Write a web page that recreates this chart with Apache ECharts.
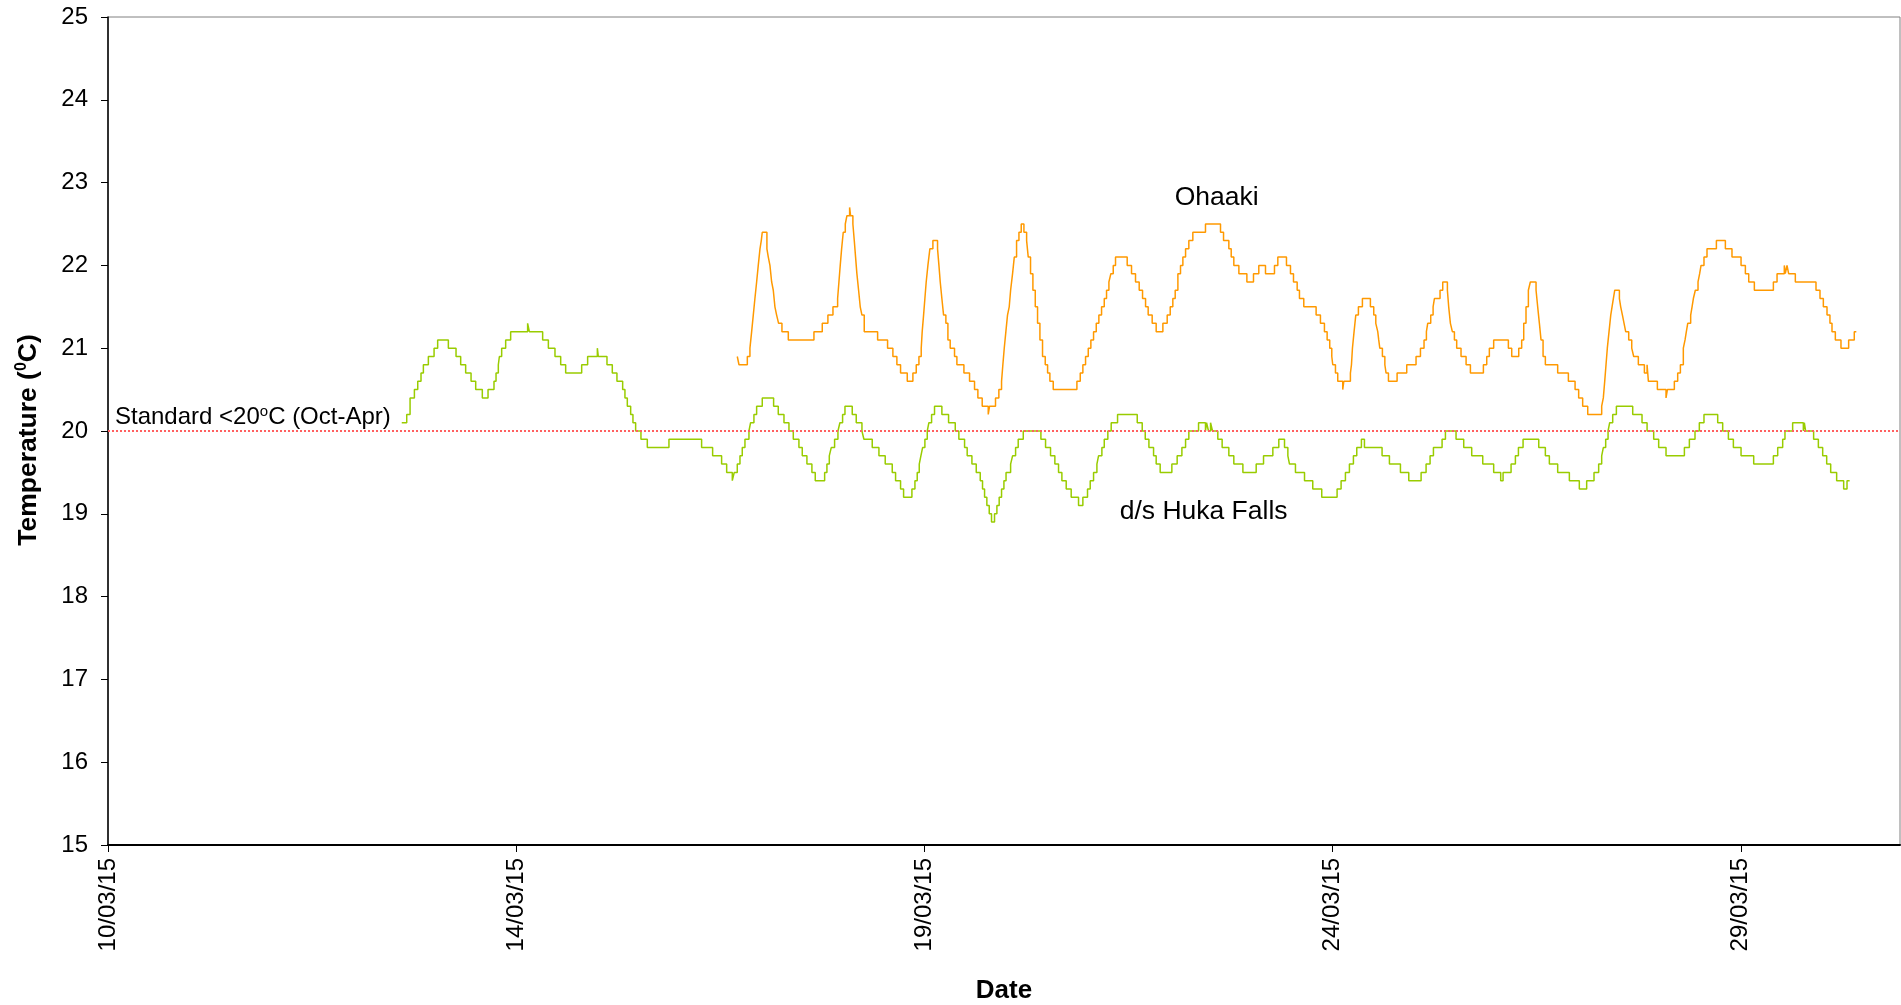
<!DOCTYPE html>
<html>
<head>
<meta charset="utf-8">
<title>Temperature</title>
<script src="https://cdn.jsdelivr.net/npm/echarts@6/dist/echarts.min.js"></script>
<style>
html, body { margin: 0; padding: 0; background: #fff; }
#chart { width: 1901px; height: 1005px; }
</style>
</head>
<body>
<div id="chart"></div>
<script>
// x = days from the first axis tick, y = temperature in degC
var xTickLabels = ['10/03/15', '14/03/15', '19/03/15', '24/03/15', '29/03/15'];
var standardValue = 20;

var hukaFalls = [
	[3.598,20.1],[3.659,20.2],[3.700,20.4],[3.753,20.5],[3.794,20.6],[3.834,20.7],[3.863,20.8],[3.924,20.9],[3.994,21.0],[4.038,21.1],
	[4.169,21.0],[4.263,20.9],[4.320,20.8],[4.381,20.7],[4.447,20.6],[4.504,20.5],[4.585,20.4],[4.655,20.5],[4.728,20.6],[4.753,20.7],
	[4.781,20.8],[4.794,20.9],[4.822,21.0],[4.871,21.1],[4.932,21.2],[5.140,21.3],[5.161,21.2],[5.324,21.1],[5.394,21.0],[5.475,20.9],
	[5.545,20.8],[5.606,20.7],[5.802,20.8],[5.875,20.9],[5.994,21.0],[6.006,20.9],[6.112,20.8],[6.177,20.7],[6.234,20.6],[6.304,20.5],
	[6.332,20.4],[6.361,20.3],[6.402,20.2],[6.430,20.1],[6.463,20.0],[6.528,19.9],[6.606,19.8],[6.871,19.9],[7.271,19.8],
	[7.406,19.7],[7.516,19.6],[7.578,19.5],[7.647,19.4],[7.671,19.5],[7.708,19.6],[7.741,19.7],[7.769,19.8],[7.802,19.9],[7.851,20.0],
	[7.871,20.1],[7.912,20.2],[7.945,20.3],[8.014,20.4],[8.153,20.3],[8.210,20.2],[8.280,20.1],[8.341,20.0],[8.394,19.9],[8.463,19.8],
	[8.504,19.7],[8.561,19.6],[8.622,19.5],[8.663,19.4],[8.778,19.5],[8.806,19.6],[8.835,19.7],[8.859,19.8],[8.900,19.9],[8.941,20.0],
	[8.965,20.1],[8.998,20.2],[9.027,20.3],[9.116,20.2],[9.165,20.1],[9.235,20.0],[9.259,19.9],[9.361,19.8],[9.443,19.7],[9.520,19.6],
	[9.606,19.5],[9.647,19.4],[9.708,19.3],[9.745,19.2],[9.847,19.3],[9.884,19.4],[9.912,19.5],[9.937,19.6],[9.957,19.7],[9.978,19.8],
	[10.006,19.9],[10.035,20.0],[10.055,20.1],[10.088,20.2],[10.124,20.3],[10.214,20.2],[10.296,20.1],[10.378,20.0],[10.422,19.9],
	[10.492,19.8],[10.524,19.7],[10.582,19.6],[10.635,19.5],[10.684,19.4],[10.712,19.3],[10.737,19.2],[10.765,19.1],[10.794,19.0],
	[10.822,18.9],[10.859,19.0],[10.888,19.1],[10.916,19.2],[10.945,19.3],[10.974,19.4],[11.000,19.5],[11.056,19.6],[11.080,19.7],
	[11.117,19.8],[11.149,19.9],[11.211,20.0],[11.427,19.9],[11.484,19.8],[11.545,19.7],[11.598,19.6],[11.643,19.5],[11.684,19.4],
	[11.737,19.3],[11.798,19.2],[11.888,19.1],[11.941,19.2],[11.998,19.3],[12.031,19.4],[12.072,19.5],[12.113,19.6],[12.133,19.7],
	[12.174,19.8],[12.203,19.9],[12.247,20.0],[12.288,20.1],[12.366,20.2],[12.607,20.1],[12.668,20.0],[12.705,19.9],[12.750,19.8],
	[12.807,19.7],[12.839,19.6],[12.888,19.5],[13.031,19.6],[13.096,19.7],[13.154,19.8],[13.199,19.9],[13.239,20.0],[13.358,20.1],
	[13.443,20.0],[13.456,20.1],[13.480,20.0],[13.505,20.1],[13.529,20.0],[13.594,19.9],[13.647,19.8],[13.729,19.7],[13.790,19.6],
	[13.901,19.5],[14.064,19.6],[14.154,19.7],[14.268,19.8],[14.341,19.9],[14.411,19.8],[14.452,19.7],[14.472,19.6],[14.545,19.5],
	[14.656,19.4],[14.757,19.3],[14.867,19.2],[15.055,19.3],[15.104,19.4],[15.157,19.5],[15.206,19.6],[15.255,19.7],[15.296,19.8],
	[15.353,19.9],[15.390,19.8],[15.606,19.7],[15.696,19.6],[15.831,19.5],[15.933,19.4],[16.084,19.5],[16.145,19.6],[16.194,19.7],
	[16.235,19.8],[16.341,19.9],[16.382,20.0],[16.512,19.9],[16.606,19.8],[16.704,19.7],[16.839,19.6],[16.973,19.5],[17.059,19.4],
	[17.088,19.5],[17.186,19.6],[17.239,19.7],[17.276,19.8],[17.333,19.9],[17.525,19.8],[17.606,19.7],[17.655,19.6],[17.757,19.5],
	[17.900,19.4],[18.022,19.3],[18.112,19.4],[18.202,19.5],[18.259,19.6],[18.296,19.7],[18.316,19.8],[18.345,19.9],[18.374,20.0],
	[18.394,20.1],[18.431,20.2],[18.476,20.3],[18.676,20.2],[18.790,20.1],[18.852,20.0],[18.933,19.9],[18.994,19.8],[19.084,19.7],
	[19.309,19.8],[19.370,19.9],[19.439,20.0],[19.492,20.1],[19.549,20.2],[19.717,20.1],[19.778,20.0],[19.848,19.9],[19.909,19.8],
	[20.003,19.7],[20.158,19.6],[20.399,19.7],[20.452,19.8],[20.513,19.9],[20.541,20.0],[20.635,20.1],[20.766,20.0],[20.778,20.1],
	[20.794,20.0],[20.892,19.9],[20.950,19.8],[21.003,19.7],[21.052,19.6],[21.101,19.5],[21.174,19.4],[21.260,19.3],[21.301,19.4],
	[21.333,19.4]
];

var ohaaki = [
	[7.708,20.9],[7.729,20.8],[7.831,20.9],[7.863,21.0],[7.884,21.2],[7.904,21.4],[7.924,21.6],[7.945,21.8],[7.965,22.0],[7.986,22.2],
	[8.002,22.3],[8.014,22.4],[8.071,22.2],[8.088,22.1],[8.108,22.0],[8.129,21.8],[8.149,21.7],[8.169,21.5],[8.190,21.4],[8.214,21.3],
	[8.255,21.2],[8.333,21.1],[8.647,21.2],[8.749,21.3],[8.818,21.4],[8.880,21.5],[8.937,21.6],[8.953,21.8],[8.969,22.0],[8.986,22.2],
	[9.006,22.4],[9.031,22.5],[9.051,22.6],[9.084,22.7],[9.096,22.6],[9.124,22.5],[9.141,22.3],[9.157,22.1],[9.173,21.9],[9.194,21.7],
	[9.214,21.5],[9.235,21.4],[9.263,21.2],[9.427,21.1],[9.549,21.0],[9.614,20.9],[9.663,20.8],[9.708,20.7],[9.790,20.6],[9.859,20.7],
	[9.900,20.8],[9.933,20.9],[9.961,21.0],[9.973,21.2],[9.990,21.4],[10.006,21.6],[10.022,21.8],[10.043,22.0],[10.067,22.2],
	[10.104,22.3],[10.161,22.2],[10.178,22.0],[10.194,21.8],[10.214,21.6],[10.235,21.4],[10.263,21.3],[10.288,21.1],[10.316,21.0],
	[10.369,20.9],[10.398,20.8],[10.484,20.7],[10.553,20.6],[10.614,20.5],[10.655,20.4],[10.708,20.3],[10.782,20.2],[10.798,20.3],
	[10.871,20.4],[10.912,20.5],[10.945,20.6],[10.961,20.8],[10.978,21.0],[10.998,21.2],[11.018,21.4],[11.039,21.5],[11.056,21.7],
	[11.080,21.9],[11.101,22.1],[11.129,22.3],[11.158,22.4],[11.186,22.5],[11.219,22.4],[11.252,22.3],[11.272,22.1],[11.300,21.9],
	[11.329,21.7],[11.358,21.5],[11.386,21.3],[11.415,21.1],[11.447,20.9],[11.480,20.8],[11.509,20.7],[11.537,20.6],[11.578,20.5],
	[11.868,20.6],[11.909,20.7],[11.941,20.8],[11.974,20.9],[12.007,21.0],[12.039,21.1],[12.072,21.2],[12.105,21.3],[12.137,21.4],
	[12.170,21.5],[12.203,21.6],[12.231,21.7],[12.260,21.8],[12.284,21.9],[12.313,22.0],[12.341,22.1],[12.484,22.0],[12.537,21.9],
	[12.586,21.8],[12.631,21.7],[12.672,21.6],[12.709,21.5],[12.741,21.4],[12.790,21.3],[12.839,21.2],[12.921,21.3],[12.974,21.4],
	[13.011,21.5],[13.043,21.6],[13.072,21.7],[13.105,21.9],[13.137,22.0],[13.166,22.1],[13.199,22.2],[13.239,22.3],[13.288,22.4],
	[13.443,22.5],[13.627,22.4],[13.664,22.3],[13.729,22.2],[13.758,22.1],[13.790,22.0],[13.852,21.9],[13.950,21.8],[14.031,21.9],
	[14.096,22.0],[14.178,21.9],[14.288,22.0],[14.329,22.1],[14.435,22.0],[14.484,21.9],[14.521,21.8],[14.566,21.7],[14.594,21.6],
	[14.647,21.5],[14.798,21.4],[14.851,21.3],[14.900,21.2],[14.933,21.1],[14.965,21.0],[14.990,20.9],[15.002,20.8],[15.035,20.7],
	[15.063,20.6],[15.124,20.5],[15.137,20.6],[15.218,20.7],[15.231,20.8],[15.243,21.0],[15.263,21.2],[15.284,21.4],[15.316,21.5],
	[15.365,21.6],[15.463,21.5],[15.504,21.4],[15.529,21.3],[15.553,21.2],[15.565,21.1],[15.578,21.0],[15.610,20.9],[15.640,20.8],
	[15.655,20.7],[15.684,20.6],[15.790,20.7],[15.908,20.8],[16.022,20.9],[16.076,21.0],[16.120,21.1],[16.149,21.2],[16.165,21.3],
	[16.202,21.4],[16.231,21.5],[16.247,21.6],[16.316,21.7],[16.349,21.8],[16.406,21.7],[16.422,21.5],[16.443,21.3],[16.467,21.2],
	[16.492,21.1],[16.520,21.0],[16.573,20.9],[16.635,20.8],[16.688,20.7],[16.847,20.8],[16.888,20.9],[16.920,21.0],[16.973,21.1],
	[17.153,21.0],[17.194,20.9],[17.280,21.0],[17.316,21.1],[17.341,21.3],[17.369,21.5],[17.398,21.7],[17.422,21.8],[17.492,21.7],
	[17.512,21.5],[17.533,21.3],[17.553,21.1],[17.578,20.9],[17.606,20.8],[17.757,20.7],[17.888,20.6],[17.970,20.5],[18.014,20.4],
	[18.063,20.3],[18.125,20.2],[18.296,20.3],[18.316,20.4],[18.333,20.6],[18.349,20.8],[18.365,21.0],[18.386,21.2],[18.407,21.4],
	[18.423,21.5],[18.439,21.6],[18.456,21.7],[18.513,21.6],[18.529,21.5],[18.550,21.4],[18.570,21.3],[18.590,21.2],[18.627,21.1],
	[18.664,21.0],[18.688,20.9],[18.745,20.8],[18.819,20.7],[18.852,20.8],[18.860,20.7],[18.868,20.6],[18.978,20.5],[19.084,20.4],
	[19.101,20.5],[19.186,20.6],[19.227,20.7],[19.260,20.8],[19.296,21.0],[19.317,21.1],[19.333,21.2],[19.350,21.3],[19.386,21.4],
	[19.403,21.5],[19.419,21.6],[19.443,21.7],[19.476,21.8],[19.496,21.9],[19.513,22.0],[19.549,22.1],[19.586,22.2],[19.701,22.3],
	[19.811,22.2],[19.892,22.1],[20.003,22.0],[20.056,21.9],[20.097,21.8],[20.166,21.7],[20.399,21.8],[20.444,21.9],[20.533,22.0],
	[20.545,21.9],[20.566,22.0],[20.586,21.9],[20.668,21.8],[20.921,21.7],[20.970,21.6],[21.011,21.5],[21.056,21.4],[21.092,21.3],
	[21.117,21.2],[21.158,21.1],[21.227,21.0],[21.321,21.1],[21.390,21.2],[21.415,21.2]
];

// where the series names sit on the plot (data coords)
var ohaakiLabelAt = [13.58, 22.82];
var hukaLabelAt = [13.42, 19.02];

var font = '"Liberation Sans", Arial, sans-serif';
var chart = echarts.init(document.getElementById('chart'));

chart.setOption({
	animation: false,
	backgroundColor: '#ffffff',
	textStyle: { fontFamily: font },
	grid: {
		left: 108,
		right: 1,
		top: 17,
		bottom: 160,
		outerBoundsMode: 'none',
		containLabel: false,
		show: true,
		borderColor: '#808080',
		borderWidth: 1
	},
	xAxis: {
		type: 'value',
		min: 0,
		max: 21.95,
		interval: 5,
		name: 'Date',
		nameLocation: 'middle',
		nameGap: 133,
		nameTextStyle: { fontSize: 26, fontWeight: 'bold', color: '#000', fontFamily: font },
		axisLine: { show: true, onZero: false, lineStyle: { color: '#000', width: 2 } },
		axisTick: { show: true, length: 7, lineStyle: { color: '#000', width: 1 } },
		splitLine: { show: false },
		axisLabel: {
			rotate: 90,
			margin: 13,
			fontSize: 24,
			color: '#000',
			fontFamily: font,
			showMaxLabel: false,
			formatter: function (v) {
				var i = Math.round(v / 5);
				return Math.abs(v - i * 5) < 1e-6 && xTickLabels[i] ? xTickLabels[i] : '';
			}
		}
	},
	yAxis: {
		type: 'value',
		min: 15,
		max: 25,
		interval: 1,
		name: 'Temperature ({s|0}C)',
		nameLocation: 'middle',
		nameGap: 64,
		nameTextStyle: {
			fontSize: 26.5,
			fontWeight: 'bold',
			color: '#000',
			fontFamily: font,
			padding: [0, 18, 0, 0],
			rich: {
				s: { fontSize: 16, fontWeight: 'bold', color: '#000', fontFamily: font, verticalAlign: 'top', lineHeight: 30 }
			}
		},
		axisLine: { show: true, lineStyle: { color: '#000', width: 1.5 } },
		axisTick: { show: true, length: 7, lineStyle: { color: '#000', width: 1 } },
		splitLine: { show: false },
		axisLabel: { margin: 20, fontSize: 24, color: '#000', fontFamily: font }
	},
	series: [
		{
			name: 'd/s Huka Falls',
			type: 'line',
			step: 'end',
			showSymbol: false,
			symbol: 'none',
			data: hukaFalls,
			lineStyle: { color: '#99cc00', width: 1.5 },
			itemStyle: { color: '#99cc00' },
			z: 2,
			markPoint: {
				symbol: 'circle',
				symbolSize: 0,
				label: { show: true, formatter: '{b}', fontSize: 26.5, color: '#000', fontFamily: font },
				data: [{ name: 'd/s Huka Falls', coord: hukaLabelAt }]
			},
			markLine: {
				silent: true,
				symbol: ['none', 'none'],
				lineStyle: { color: '#ff6060', type: 'dotted', width: 2 },
				label: {
					show: true,
					position: 'insideStartTop',
					distance: [7, 1],
					fontSize: 24,
					color: '#000',
					fontFamily: font,
					formatter: function () { return 'Standard <20{s|o}C (Oct-Apr)'; },
					rich: {
						s: { fontSize: 15, color: '#000', fontFamily: font, verticalAlign: 'top', lineHeight: 26 }
					}
				},
				data: [{ yAxis: standardValue }]
			}
		},
		{
			name: 'Ohaaki',
			type: 'line',
			step: 'end',
			showSymbol: false,
			symbol: 'none',
			data: ohaaki,
			lineStyle: { color: '#ff9900', width: 1.5 },
			itemStyle: { color: '#ff9900' },
			z: 2,
			markPoint: {
				symbol: 'circle',
				symbolSize: 0,
				label: { show: true, formatter: '{b}', fontSize: 26.5, color: '#000', fontFamily: font },
				data: [{ name: 'Ohaaki', coord: ohaakiLabelAt }]
			}
		}
	]
});
</script>
</body>
</html>
